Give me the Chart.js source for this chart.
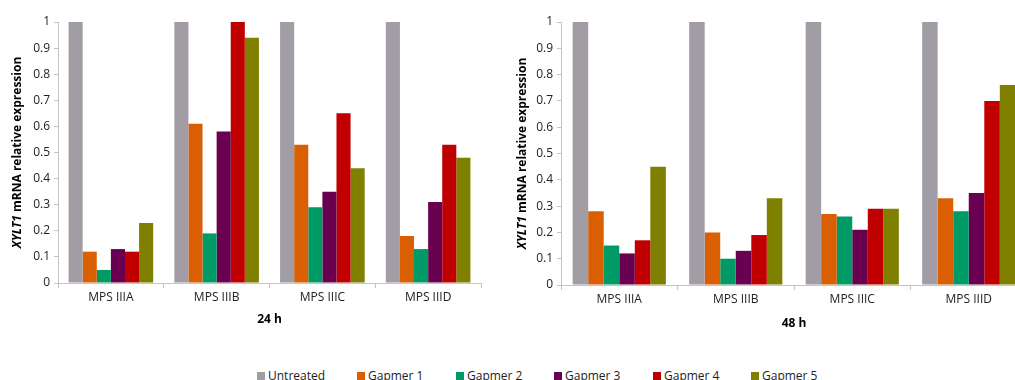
<!DOCTYPE html>
<html>
<head>
<meta charset="utf-8">
<script src="https://cdn.jsdelivr.net/npm/chart.js@4.4.1/dist/chart.umd.min.js"></script>
<style>
  html, body { margin: 0; padding: 0; background: #fff; width: 1015px; height: 380px; overflow: hidden; position: relative; }
  .wrap { position: absolute; top: 0; }
  #legend { position: absolute; top: 368px; left: 0; width: 1015px; height: 16px; font-family: "Open Sans", sans-serif; font-size: 12px; color: #222; }
  .item { position: absolute; top: 0; white-space: nowrap; line-height: 16px; }
  .sw { display: inline-block; width: 8px; height: 8px; margin-right: 3px; vertical-align: 0px; }
</style>
</head>
<body>
<div class="wrap" style="left:0px;width:495px;height:340px;"><canvas id="c1"></canvas></div>
<div class="wrap" style="left:497px;width:540px;height:340px;"><canvas id="c2"></canvas></div>
<div id="legend"></div>
<script>
const categories = ["MPS IIIA", "MPS IIIB", "MPS IIIC", "MPS IIID"];
const seriesNames = ["Untreated", "Gapmer 1", "Gapmer 2", "Gapmer 3", "Gapmer 4", "Gapmer 5"];
const seriesColors = ["#a29da5", "#d95f02", "#009a66", "#6a0050", "#c00000", "#808000"];

// 24 h values, one array per series (order of categories)
const untreated24 = [1, 1, 1, 1];
const gapmer1_24 = [0.12, 0.61, 0.53, 0.18];
const gapmer2_24 = [0.05, 0.19, 0.29, 0.13];
const gapmer3_24 = [0.13, 0.58, 0.35, 0.31];
const gapmer4_24 = [0.12, 1.00, 0.65, 0.53];
const gapmer5_24 = [0.23, 0.94, 0.44, 0.48];

// 48 h values
const untreated48 = [1, 1, 1, 1];
const gapmer1_48 = [0.28, 0.20, 0.27, 0.33];
const gapmer2_48 = [0.15, 0.10, 0.26, 0.28];
const gapmer3_48 = [0.12, 0.13, 0.21, 0.35];
const gapmer4_48 = [0.17, 0.19, 0.29, 0.70];
const gapmer5_48 = [0.45, 0.33, 0.29, 0.76];

const yTicks = [0, 0.1, 0.2, 0.3, 0.4, 0.5, 0.6, 0.7, 0.8, 0.9, 1];
const yTitleItalic = "XYLT1";
const yTitleRest = " mRNA relative expression";

const FONT = '"Open Sans", sans-serif';
const AXIS_COLOR = "#c4c4c4";

function yTitlePlugin(offset) {
  return {
    id: 'ytitle',
    afterDraw(chart) {
      const ctx = chart.ctx;
      const a = chart.chartArea;
      const cy = (a.top + a.bottom) / 2;
      const cx = a.left - offset;
      ctx.save();
      ctx.translate(cx, cy);
      ctx.rotate(-Math.PI / 2);
      ctx.fillStyle = "#000";
      ctx.textBaseline = "middle";
      const f1 = 'italic bold 12px ' + FONT;
      const f2 = 'bold 12px ' + FONT;
      ctx.font = f1; const w1 = ctx.measureText(yTitleItalic).width;
      ctx.font = f2; const w2 = ctx.measureText(yTitleRest).width;
      let x = -(w1 + w2) / 2;
      ctx.font = f1; ctx.textAlign = "left"; ctx.fillText(yTitleItalic, x, 0);
      ctx.font = f2; ctx.fillText(yTitleRest, x + w1, 0);
      ctx.restore();
    }
  };
}

function makeChart(id, series, title, yWidth, padRight, bottomY, titleOffset, titlePadBottom) {
  const datasets = series.map((vals, i) => ({
    label: seriesNames[i],
    data: vals,
    backgroundColor: seriesColors[i],
    borderWidth: 0,
    barPercentage: 1.0,
    categoryPercentage: 0.8
  }));
  return new Chart(document.getElementById(id), {
    type: 'bar',
    data: { labels: categories, datasets },
    options: {
      responsive: true,
      maintainAspectRatio: false,
      animation: false,
      layout: { padding: { top: 22, right: padRight, left: 0, bottom: 0 } },
      plugins: { legend: { display: false }, tooltip: { enabled: false } },
      scales: {
        x: {
          offset: true,
          grid: { display: true, drawOnChartArea: false, drawTicks: true, tickLength: 5, color: AXIS_COLOR, offset: true },
          border: { color: AXIS_COLOR, width: 1 },
          ticks: { color: "#222", font: { family: FONT, size: 12 }, padding: 2 },
          title: { display: true, text: title, color: "#000", font: { family: FONT, size: 12, weight: 'bold' }, padding: { top: 0, bottom: titlePadBottom } },
          afterFit(s) { s.height = 340 - bottomY; }
        },
        y: {
          min: 0, max: 1,
          afterBuildTicks(s) { s.ticks = yTicks.map(v => ({ value: v })); },
          grid: { display: true, drawOnChartArea: false, drawTicks: true, tickLength: 4, color: AXIS_COLOR },
          border: { color: AXIS_COLOR, width: 1 },
          ticks: { color: "#222", font: { family: FONT, size: 12 }, padding: 4, callback: v => String(v) },
          afterFit(s) { s.width = yWidth; }
        }
      }
    },
    plugins: [yTitlePlugin(titleOffset)]
  });
}

makeChart('c1', [untreated24, gapmer1_24, gapmer2_24, gapmer3_24, gapmer4_24, gapmer5_24], "24 h", 58, 14, 283, 40, 13);
makeChart('c2', [untreated48, gapmer1_48, gapmer2_48, gapmer3_48, gapmer4_48, gapmer5_48], "48 h", 64, 10, 285, 38, 9);

// HTML legend
const legendX = [257, 357, 456, 554, 653, 751];
const lg = document.getElementById('legend');
seriesNames.forEach((n, i) => {
  const d = document.createElement('div');
  d.className = 'item';
  d.style.left = legendX[i] + 'px';
  d.innerHTML = '<span class="sw" style="background:' + seriesColors[i] + '"></span>' + n;
  lg.appendChild(d);
});
</script>
</body>
</html>
